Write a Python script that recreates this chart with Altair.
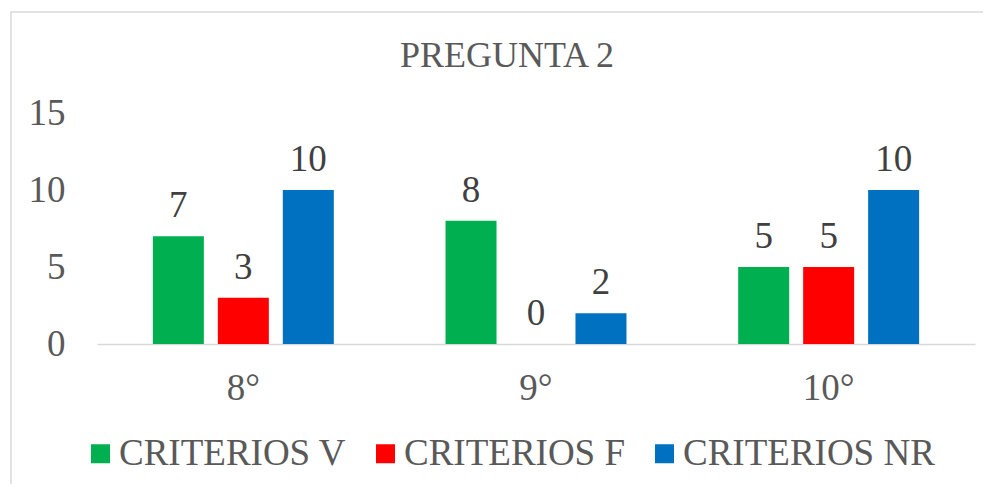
import altair as alt
import pandas as pd

grades = ["8°", "9°", "10°"]
series = ["CRITERIOS V", "CRITERIOS F", "CRITERIOS NR"]
criterios_v = [7, 8, 5]
criterios_f = [3, 0, 5]
criterios_nr = [10, 2, 10]
colors = ["#00B050", "#FF0000", "#0070C0"]

rows = []
for s, vals in zip(series, [criterios_v, criterios_f, criterios_nr]):
    for g, v in zip(grades, vals):
        rows.append({"grade": g, "serie": s, "value": v})
df = pd.DataFrame(rows)

FONT = "Liberation Serif"
GRAY = "#595959"

x = alt.X("grade:N", sort=grades, title=None,
          scale=alt.Scale(paddingInner=0.334, paddingOuter=0.167),
          axis=alt.Axis(labelAngle=0, ticks=False, domainColor="#d9d9d9", domainWidth=1.5,
                        labelFont=FONT, labelFontSize=37, labelColor=GRAY, labelPadding=26))
xo = alt.XOffset("serie:N", sort=series, scale=alt.Scale(paddingInner=0.215, paddingOuter=0.1075))
y = alt.Y("value:Q", title=None,
          scale=alt.Scale(domain=[0, 15], nice=False),
          axis=alt.Axis(values=[0, 5, 10, 15], grid=False, domain=False, ticks=False,
                        labelFont=FONT, labelFontSize=37, labelColor=GRAY, labelPadding=32))

bars = alt.Chart(df).mark_bar().encode(
    x=x, xOffset=xo, y=y,
    color=alt.Color("serie:N", sort=series,
                    scale=alt.Scale(domain=series, range=colors),
                    legend=alt.Legend(orient="none", legendX=-15, legendY=322, direction="horizontal",
                                      title=None, symbolType="square", symbolSize=361,
                                      symbolStrokeWidth=0, labelFont=FONT, labelFontSize=37,
                                      labelColor=GRAY, labelOffset=0, columnPadding=20,
                                      labelLimit=0, padding=0)),
)

labels = alt.Chart(df).mark_text(font=FONT, fontSize=37, color="#404040",
                                 baseline="alphabetic", dy=-19).encode(
    x=x, xOffset=xo, y=y, text=alt.Text("value:Q"))

border = alt.Chart(pd.DataFrame({"k": [0]})).mark_rect(
    fillOpacity=0, stroke="#d9d9d9", strokeWidth=1.5).encode(
    x=alt.value(-86), x2=alt.value(905), y=alt.value(-101), y2=alt.value(390))

chart = alt.layer(border, bars, labels).properties(
    width=878, height=231,
    title=alt.TitleParams("PREGUNTA 2", font=FONT, fontSize=36, color=GRAY,
                          fontWeight="normal", dx=-29, offset=-92, baseline="alphabetic"),
    autosize=alt.AutoSizeParams(type="none"),
    padding={"left": 89, "top": 105, "right": 8, "bottom": 140},
).configure_view(stroke=None)

chart.save("out.html", embed_options={"renderer": "svg", "actions": False})
